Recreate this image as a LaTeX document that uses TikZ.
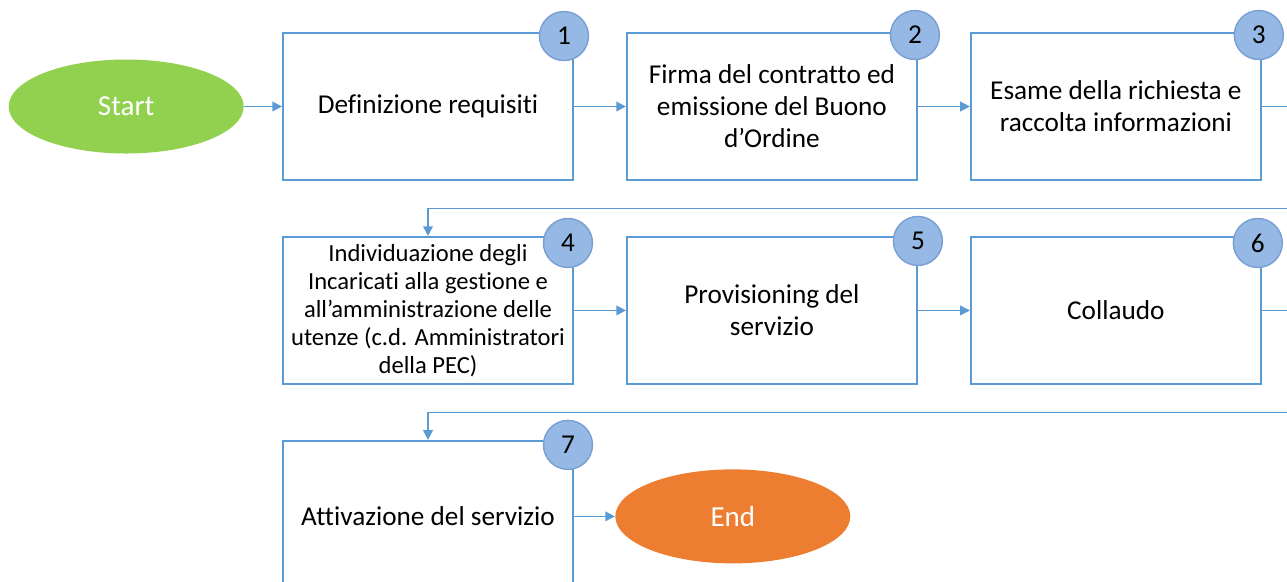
\documentclass[tikz,border=0pt]{standalone}
\usepackage{fontspec}
\setmainfont{Carlito}[Ligatures=NoCommon]
\usepackage{tikz}
\usetikzlibrary{positioning}
\usetikzlibrary{shapes.geometric}
\usetikzlibrary{arrows.meta}
\usetikzlibrary{calc}

\definecolor{boxblue}{HTML}{5B9BD5}
\definecolor{badgefill}{HTML}{95B9E4}
\definecolor{badgeline}{HTML}{7A9FD2}
\definecolor{startgreen}{HTML}{92D050}
\definecolor{endorange}{HTML}{ED7D31}

\tikzset{
  stage/.style={draw=boxblue, line width=1.1pt, fill=white, minimum width=5.8cm,
    minimum height=2.94cm, align=center, font=\fontsize{15.5}{18.2}\selectfont},
  badge/.style={circle, draw=badgeline, fill=badgefill, line width=0.8pt,
    minimum size=0.98cm, inner sep=0pt, font=\fontsize{15.5}{18}\selectfont},
  terminal/.style={ellipse, minimum width=4.7cm, minimum height=1.88cm,
    text=white, font=\fontsize{16.5}{20}\selectfont},
  flow/.style={draw=boxblue, line width=0.8pt, -{Triangle[length=5.5pt,width=5.5pt]}}
}

\begin{document}
\begin{tikzpicture}
      \useasboundingbox (0,0) rectangle (25.74,-11.62);
      % first row
      \node[stage] (r1) at (8.56,-2.13) {Definizione requisiti};
      \node[stage, right=1.04cm of r1] (r2) {Firma del contratto ed\\emissione del Buono\\d’Ordine};
      \node[stage, right=1.04cm of r2] (r3) {Esame della richiesta e\\raccolta informazioni};
      \node[terminal, fill=startgreen, left=0.76cm of r1] (start) {Start};
      % second row
      \node[stage, below=1.1cm of r1, font=\fontsize{14}{16}\selectfont] (r4)
        {Individuazione degli\\Incaricati alla gestione e\\all’amministrazione delle\\utenze (c.d. Amministratori\\della PEC)};
      \node[stage, right=1.04cm of r4] (r5) {Provisioning del\\servizio};
      \node[stage, right=1.04cm of r5] (r6) {Collaudo};
      % third row
      \node[stage, minimum height=3.02cm, below=1.1cm of r4.south] (r7) {Attivazione del servizio};
      \node[terminal, fill=endorange, right=0.82cm of r7] (end) {End};

      % step numbers
      \foreach \n/\s/\dx/\dy in {1/r1/-0.2/-0.08, 2/r2/-0.06/-0.06, 3/r3/-0.06/-0.06,
          4/r4/-0.12/-0.14, 5/r5/0/-0.1, 6/r6/-0.08/-0.14, 7/r7/-0.12/-0.1}
        \node[badge] (n\n) at ([xshift=\dx cm, yshift=\dy cm]\s.north east) {\n};

      % turns off the right edge
      \coordinate (back1) at ($(r3.south east)!0.5!(r6.north east)+(0.8,0)$);
      \coordinate (back2) at ($(r6.south east)!0.5!(r7.north -| r6.east)+(0.8,0)$);

      \draw[flow] (start) -- (r1);
      \draw[flow] (r1) -- (r2);
      \draw[flow] (r2) -- (r3);
      \draw[flow] (r3.east) -| (back1) -| (r4.north);
      \draw[flow] (r4) -- (r5);
      \draw[flow] (r5) -- (r6);
      \draw[flow] (r6.east) -| (back2) -| (r7.north);
      \draw[flow] (r7) -- (end);
    \end{tikzpicture}
\end{document}
